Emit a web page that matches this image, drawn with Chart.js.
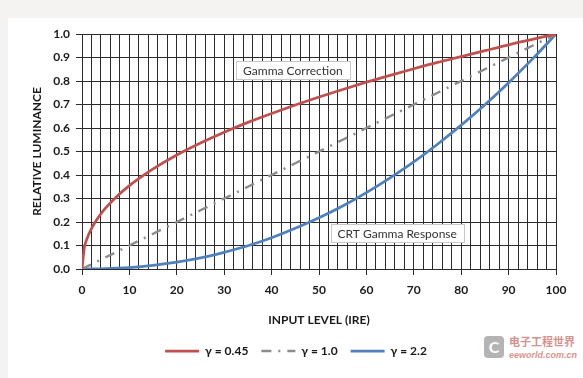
<!DOCTYPE html>
<html lang="en">
<head>
    <meta charset="UTF-8">
    <title>Gamma Curves</title>
    <script src="https://cdn.jsdelivr.net/npm/chart.js@4/dist/chart.umd.min.js"></script>
    <style>
        body { margin: 0; background: #f5f2f2; width: 583px; height: 378px; overflow: hidden; position: relative; font-family: Lato, sans-serif; }
        #card { position: absolute; left: 8px; top: 18px; right: 0; bottom: 0; background: #fff; }
        #wrap { position: absolute; left: 0; top: 0; width: 583px; height: 378px; }
        #mark { position: absolute; left: 484px; top: 334px; width: 99px; height: 40px; opacity: 0.55; white-space: nowrap; }
        #mark .logo { position: absolute; left: 0; top: 2px; width: 20px; height: 22px; background: #777; border-radius: 4px; color: #fff; font: bold 16px Lato; text-align: center; line-height: 22px; }
        #mark .cn { position: absolute; left: 25px; top: 0; font: bold 11px "Noto Sans CJK SC"; color: #b03a2e; line-height: 14px; }
        #mark .en { position: absolute; left: 25px; top: 15px; font: italic bold 9px "Liberation Sans Narrow", "Liberation Sans"; color: #c0392b; line-height: 12px; }
    </style>
</head>
<body>
    <div id="card"></div>
    <div id="mark">
        <div class="logo">C</div>
        <div class="cn">电子工程世界</div>
        <div class="en">eeworld.com.cn</div>
    </div>
    <div id="wrap"><canvas id="gammaChart" width="583" height="378"></canvas></div>

    <script>
        // values
        const ireLevels = [0, 0.5, 1, 2, 3, 4, 5, 7.5, 10, 12.5, 15, 20, 25, 30, 35, 40, 45, 50, 55, 60, 65, 70, 75, 80, 85, 90, 95, 100];
        const gamma045 = [0, 0.092, 0.126, 0.172, 0.206, 0.235, 0.260, 0.312, 0.355, 0.392, 0.426, 0.485, 0.536, 0.582, 0.624, 0.662, 0.698, 0.732, 0.764, 0.795, 0.824, 0.852, 0.879, 0.904, 0.929, 0.954, 0.977, 1];
        const gamma10 = [0, 0.005, 0.01, 0.02, 0.03, 0.04, 0.05, 0.075, 0.1, 0.125, 0.15, 0.2, 0.25, 0.3, 0.35, 0.4, 0.45, 0.5, 0.55, 0.6, 0.65, 0.7, 0.75, 0.8, 0.85, 0.9, 0.95, 1];
        const gamma22 = [0, 0, 0, 0.0002, 0.0005, 0.0008, 0.0014, 0.0034, 0.0063, 0.0103, 0.0154, 0.029, 0.047, 0.071, 0.099, 0.133, 0.173, 0.218, 0.268, 0.325, 0.388, 0.456, 0.531, 0.612, 0.699, 0.793, 0.893, 1];
        const seriesLabels = ['γ = 0.45', 'γ = 1.0', 'γ = 2.2'];
        const notes = [
            { text: 'Gamma Correction', x: 44.5, y: 0.845 },
            { text: 'CRT Gamma Response', x: 66.5, y: 0.153 }
        ];

        const toPoints = vals => vals.map((v, i) => ({ x: ireLevels[i], y: v }));
        const gridDark = '#2b2b2b';
        const tickFont = { family: 'Lato', size: 12, weight: 'bold' };

        // text boxes drawn at data positions
        const notesPlugin = {
            id: 'notes',
            afterLayout(chart) {
                // legend sits centred under the whole card, not the plot
                chart.legend.left += 18;
                chart.legend.right += 18;
            },
            afterDatasetsDraw(chart) {
                const { ctx, scales } = chart;
                ctx.save();
                ctx.font = '12px Lato';
                ctx.textAlign = 'center';
                ctx.textBaseline = 'middle';
                notes.forEach(n => {
                    const px = scales.x.getPixelForValue(n.x);
                    const py = scales.y.getPixelForValue(n.y);
                    const w = ctx.measureText(n.text).width + 14;
                    const h = 18;
                    ctx.fillStyle = '#fff';
                    ctx.fillRect(px - w / 2, py - h / 2, w, h);
                    ctx.strokeStyle = '#c8c8c8';
                    ctx.lineWidth = 1;
                    ctx.strokeRect(Math.round(px - w / 2) + 0.5, Math.round(py - h / 2) + 0.5, Math.round(w), h);
                    ctx.fillStyle = '#333';
                    ctx.fillText(n.text, px, py + 1);
                });
                ctx.restore();
            }
        };

        new Chart(document.getElementById('gammaChart'), {
            type: 'line',
            data: {
                datasets: [{
                    label: seriesLabels[0],
                    data: toPoints(gamma045),
                    borderColor: '#c0504d',
                    borderWidth: 2.75,
                    pointRadius: 0,
                    pointStyle: 'line',
                    cubicInterpolationMode: 'monotone'
                }, {
                    label: seriesLabels[1],
                    data: toPoints(gamma10),
                    borderColor: '#8c8c8c',
                    borderWidth: 2.5,
                    borderDash: [10, 7, 2, 7],
                    pointRadius: 0,
                    pointStyle: 'line'
                }, {
                    label: seriesLabels[2],
                    data: toPoints(gamma22),
                    borderColor: '#4f81bd',
                    borderWidth: 2.75,
                    pointRadius: 0,
                    pointStyle: 'line',
                    cubicInterpolationMode: 'monotone'
                }]
            },
            options: {
                responsive: false,
                animation: false,
                layout: { padding: { top: 34, right: 27, bottom: 11, left: 0 } },
                plugins: {
                    tooltip: { enabled: false },
                    legend: {
                        position: 'bottom',
                        labels: {
                            usePointStyle: true,
                            pointStyleWidth: 34,
                            boxWidth: 34,
                            boxHeight: 3,
                            padding: 13,
                            color: '#1a1a1a',
                            font: tickFont,
                            // keep the dash pattern of each line in its legend sample
                            generateLabels: chart => Chart.defaults.plugins.legend.labels.generateLabels(chart).map(item => {
                                const ds = chart.data.datasets[item.datasetIndex];
                                item.lineDash = ds.borderDash || [];
                                item.lineWidth = ds.borderWidth;
                                return item;
                            })
                        }
                    }
                },
                scales: {
                    x: {
                        type: 'linear',
                        min: 0,
                        max: 100,
                        afterFit: s => { s.height = 63; },
                        border: { color: gridDark, width: 1 },
                        grid: {
                            color: gridDark,
                            lineWidth: 1,
                            tickLength: 6,
                            tickColor: c => (c.tick && c.tick.value % 10 === 0) ? gridDark : 'rgba(0,0,0,0)'
                        },
                        ticks: {
                            stepSize: 2,
                            maxTicksLimit: 100,
                            autoSkip: false,
                            maxRotation: 0,
                            padding: 8,
                            color: '#1a1a1a',
                            font: tickFont,
                            callback: v => v % 10 === 0 ? String(v) : ''
                        },
                        title: {
                            display: true,
                            text: 'INPUT LEVEL (IRE)',
                            color: '#1a1a1a',
                            font: tickFont,
                            padding: { top: 0, bottom: 5 }
                        }
                    },
                    y: {
                        min: 0,
                        max: 1,
                        afterFit: s => { s.width = 82; },
                        border: { color: gridDark, width: 1 },
                        grid: { color: gridDark, lineWidth: 1, tickLength: 6 },
                        ticks: {
                            stepSize: 0.1,
                            padding: 6,
                            color: '#1a1a1a',
                            font: tickFont,
                            callback: v => v.toFixed(1)
                        },
                        title: {
                            display: true,
                            text: 'RELATIVE LUMINANCE',
                            color: '#1a1a1a',
                            font: tickFont,
                            padding: { top: 30, bottom: 0 }
                        }
                    }
                }
            },
            plugins: [notesPlugin]
        });
    </script>
</body>
</html>
